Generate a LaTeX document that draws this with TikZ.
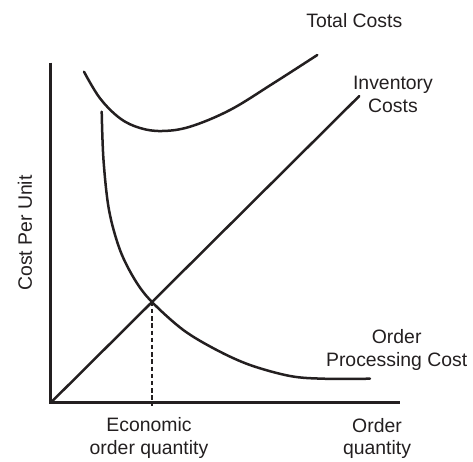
\documentclass[tikz,border=0pt]{standalone}
\usepackage{fontspec}
\setmainfont{Liberation Sans}
\usepackage{tikz}
\usetikzlibrary{positioning,calc}
\definecolor{ink}{RGB}{35,31,32}

\begin{document}
\begin{tikzpicture}[
x=0.5pt,
y=-0.5pt,
axis/.style={
  draw=ink,
  line width=1.4pt,
  },
curve/.style={
  draw=ink,
  line width=1.25pt,
  line cap=round,
  },
guide/.style={
  draw=ink,
  line width=0.9pt,
  dash pattern=on 2.2pt off 1.4pt,
  },
lbl/.style={
  align=center,
  inner sep=0pt,
  text=ink,
  font=\fontsize{9.7}{11.3}\selectfont,
  },
>=latex
]
\useasboundingbox (0,0) rectangle (473,462);

% axes
\coordinate (O) at (50.7,402.7);
\coordinate (ytop) at (50.7,62.7);
\coordinate (xend) at (400,402.7);
\draw[axis] (ytop) -- (O) -- (xend);

% inventory costs
\coordinate (invend) at (359.3,96);
\draw[curve] (O) -- (invend);

% order processing cost
\draw[curve] plot[smooth, tension=0.55] coordinates {
  (101.7,111.7) (103.5,160) (109,210) (120,250) (135,280)
  (151.7,301.7) (183.3,330) (216.7,350) (250,365) (290,376)
  (323.3,378.7) (370,378.7)};

% total costs
\draw[curve] plot[smooth, tension=0.6] coordinates {
  (84,71.7) (100,98.3) (120,118.3) (140,128) (162,131)
  (190,126.7) (230,110) (273.3,83.3) (317.3,55)};

% economic order quantity
\coordinate (eoq) at (151.7,301.7);
\coordinate (eoqfoot) at (151.7,406);
\draw[guide] (eoq) -- (eoqfoot);

\node[lbl] at (354.3,20.7)
  (total) {Total Costs};
\node[lbl] at (393,94.7)
  (inventory) {Inventory\\Costs};
\node[lbl] at (396.7,349.8)
  (processing) {Order\\Processing Cost};
\node[lbl] at (149,438)
  (economic) {Economic\\order quantity};
\node[lbl] at (377,438.5)
  (quantity) {Order\\quantity};
\node[lbl, rotate=90] at (25,233)
  (costunit) {Cost Per Unit};
\end{tikzpicture}
\end{document}
